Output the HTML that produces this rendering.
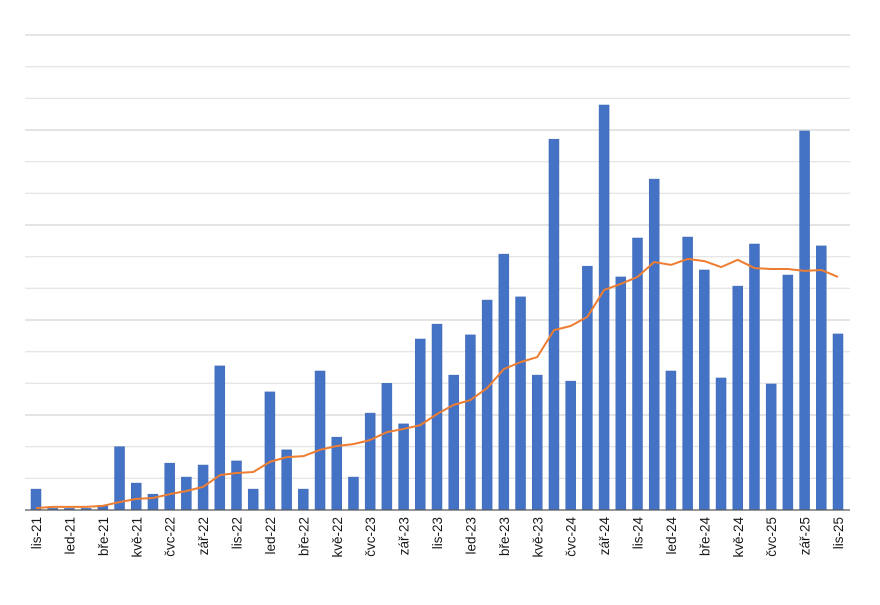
<!DOCTYPE html>
<html><head><meta charset="utf-8"><style>body{margin:0;background:#fff}svg{display:block}</style></head>
<body>
<svg id="chart" width="880" height="605" xmlns="http://www.w3.org/2000/svg" font-family="Liberation Sans, sans-serif">
<g id="grid"></g>
<g id="bars"></g>
<g id="line"></g>
<g id="labels"></g>
</svg>
<script>
const months = ["čvn","čvc","srp","zář","říj","lis","pro","led","úno","bře","dub","kvě"];
const barValues = [0.66,0.05,0.05,0.05,0.15,2.0,0.85,0.5,1.48,1.04,1.42,4.55,1.55,0.66,3.73,1.9,0.66,4.39,2.3,1.04,3.06,4.0,2.72,5.4,5.87,4.26,5.53,6.63,8.08,6.73,4.26,11.71,4.07,7.7,12.79,7.36,8.59,10.45,4.39,8.62,7.58,4.17,7.07,8.4,3.98,7.42,11.97,8.34,5.56];
const lineValues = [0.06,0.1,0.1,0.1,0.13,0.25,0.35,0.38,0.5,0.6,0.73,1.1,1.17,1.2,1.52,1.67,1.7,1.9,2.02,2.08,2.21,2.46,2.56,2.68,3.03,3.32,3.47,3.85,4.45,4.67,4.83,5.68,5.81,6.1,6.95,7.14,7.36,7.83,7.74,7.93,7.86,7.67,7.9,7.64,7.61,7.61,7.55,7.58,7.36];
const yMax = 15;
const NS="http://www.w3.org/2000/svg";
const x0=36, step=(838-36)/48, yBase=510, yTop=35;
const xs=i=>x0+i*step;
const ys=v=>yBase-(v/yMax)*(yBase-yTop);
const categories=barValues.map((_,i)=>{const m=(5+i)%12;const y=21+Math.floor((5+i)/12);return months[m]+"-"+y;});
const grid=document.getElementById('grid');
for(let k=1;k<=yMax;k++){
  const l=document.createElementNS(NS,'line');
  
  
  const y=ys(k);
  l.setAttribute('x1',25);l.setAttribute('x2',850);l.setAttribute('y1',y);l.setAttribute('y2',y);
  l.setAttribute('stroke',k%3===0?'#d4d4d4':'#e6e6e6');l.setAttribute('stroke-width',1.3);
  grid.appendChild(l);
}
const bars=document.getElementById('bars');
barValues.forEach((v,i)=>{
  const r=document.createElementNS(NS,'rect');
  
  
  const y=ys(v);
  r.setAttribute('x',xs(i)-5);r.setAttribute('width',10);r.setAttribute('y',y);r.setAttribute('height',yBase-y);
  r.setAttribute('fill','#4472c4');r.setAttribute('stroke','#3f68b5');r.setAttribute('stroke-width',0.5);
  bars.appendChild(r);
});
const axis=document.createElementNS(NS,'line');


axis.setAttribute('x1',25);axis.setAttribute('x2',850);axis.setAttribute('y1',yBase);axis.setAttribute('y2',yBase);
axis.setAttribute('stroke','#595959');axis.setAttribute('stroke-width',1.3);
bars.appendChild(axis);
const p=document.createElementNS(NS,'polyline');


p.setAttribute('points',lineValues.map((v,i)=>xs(i)+','+ys(v)).join(' '));
p.setAttribute('fill','none');p.setAttribute('stroke','#ed7d31');p.setAttribute('stroke-width',2);p.setAttribute('stroke-linejoin','round');
document.getElementById('line').appendChild(p);
const labels=document.getElementById('labels');
categories.forEach((c,i)=>{
  if(i%2) return;
  const t=document.createElementNS(NS,'text');
  
  
  const x=xs(i)+5;
  t.setAttribute('transform','translate('+x+',517) rotate(-90)');
  t.setAttribute('text-anchor','end');t.setAttribute('font-size','13.5');t.setAttribute('fill','#1a1a1a');
  t.textContent=c;
  labels.appendChild(t);
});
</script>
</body></html>
